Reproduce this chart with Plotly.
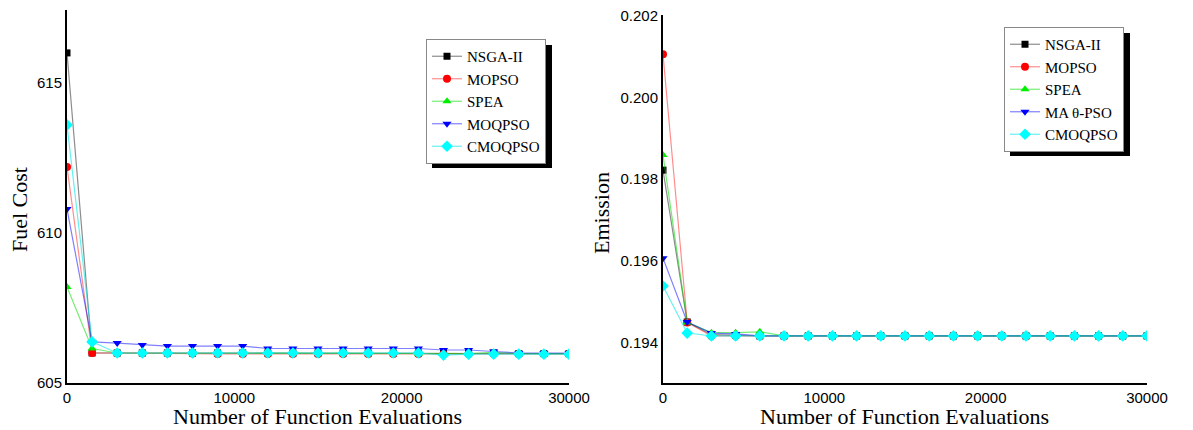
import plotly.graph_objects as go

W, H = 1193, 430
OFF = 8  # default page body margin

evals = [i * 1500 for i in range(21)]

# Fuel cost (left)
fc_names = ["NSGA-II", "MOPSO", "SPEA", "MOQPSO", "CMOQPSO"]
fc_nsga2 = [616.0, 606.0, 606.0, 606.0, 606.0, 606.0, 606.0, 606.0, 606.0, 606.0, 606.0,
            606.0, 606.0, 606.0, 606.0, 606.0, 606.0, 606.0, 605.98, 605.98, 605.98]
fc_mopso = [612.2, 606.0, 606.0, 606.0, 606.0, 605.98, 605.97, 605.97, 605.97, 605.97, 605.97,
            605.97, 605.97, 605.97, 605.97, 605.97, 605.97, 605.97, 605.97, 605.97, 605.97]
fc_spea = [608.2, 606.15, 606.0, 606.0, 606.0, 606.0, 606.0, 606.0, 606.0, 606.0, 606.0,
           606.0, 606.0, 606.0, 605.98, 605.98, 605.98, 606.02, 605.98, 605.98, 605.98]
fc_moqpso = [610.8, 606.37, 606.33, 606.27, 606.23, 606.23, 606.23, 606.23, 606.15, 606.15, 606.15,
             606.15, 606.15, 606.15, 606.15, 606.1, 606.1, 606.05, 606.0, 606.0, 606.0]
fc_cmoqpso = [613.6, 606.37, 606.0, 606.0, 606.0, 606.0, 606.0, 606.0, 606.0, 606.0, 606.0,
              606.0, 606.0, 606.0, 606.0, 605.93, 605.96, 605.96, 605.96, 605.96, 605.96]

# Emission (right)
em_names = ["NSGA-II", "MOPSO", "SPEA", "MA θ-PSO", "CMOQPSO"]
em_nsga2 = [0.19822, 0.19451, 0.19420, 0.19418] + [0.19417] * 17
em_mopso = [0.20105, 0.19450, 0.19417, 0.19417] + [0.19417] * 17
em_spea = [0.19859, 0.19450, 0.19425, 0.19425, 0.19427] + [0.19417] * 16
em_maopso = [0.19607, 0.19451, 0.19424, 0.19422] + [0.19417] * 17
em_cmoqpso = [0.19539, 0.19424, 0.19417, 0.19417] + [0.19417] * 17

fc_ticks = [605, 610, 615]
em_ticks = [0.194, 0.196, 0.198, 0.200, 0.202]
x_ticks = [0, 10000, 20000, 30000]

marker_colors = ["#000000", "#ff0000", "#00ee00", "#0000ff", "#00ffff"]
line_colors = ["rgba(0,0,0,0.45)", "rgba(255,0,0,0.45)", "rgba(0,220,0,0.55)",
               "rgba(0,0,255,0.5)", "rgba(0,230,230,0.6)"]
symbols = ["square", "circle", "triangle-up", "triangle-down", "diamond"]
sizes = [7, 8, 8, 8, 9]

SERIF = "Times New Roman, Liberation Serif, serif"
SANS = "Arial, Liberation Sans, sans-serif"

FW, FH = W - OFF, H - OFF

def px(x):
    return (x - OFF) / FW

def py(y):
    return 1 - (y - OFF) / FH

fig = go.Figure()

for i, (name, ys) in enumerate(zip(fc_names, [fc_nsga2, fc_mopso, fc_spea, fc_moqpso, fc_cmoqpso])):
    fig.add_trace(go.Scatter(
        x=evals, y=ys, name=name, mode="lines+markers",
        line=dict(color=line_colors[i], width=1.2),
        marker=dict(color=marker_colors[i], symbol=symbols[i], size=sizes[i], line=dict(width=0)),
        xaxis="x", yaxis="y", legend="legend"))

for i, (name, ys) in enumerate(zip(em_names, [em_nsga2, em_mopso, em_spea, em_maopso, em_cmoqpso])):
    fig.add_trace(go.Scatter(
        x=evals, y=ys, name=name, mode="lines+markers",
        line=dict(color=line_colors[i], width=1.2),
        marker=dict(color=marker_colors[i], symbol=symbols[i], size=sizes[i], line=dict(width=0)),
        xaxis="x2", yaxis="y2", legend="legend2"))

axis_common = dict(showline=True, linecolor="black", linewidth=2, showgrid=False,
                   zeroline=False, ticks="", tickfont=dict(family=SANS, size=15, color="black"),
                   mirror=False, automargin=False, ticklabeloverflow="allow")

legend_common = dict(xanchor="left", yanchor="top", bgcolor="white",
                     bordercolor="#888888", borderwidth=1,
                     font=dict(family=SERIF, size=15, color="black"),
                     itemwidth=30, tracegroupgap=0)

fig.update_layout(
    width=FW, height=FH,
    margin=dict(l=0, r=0, t=0, b=0, autoexpand=False),
    paper_bgcolor="white", plot_bgcolor="white",
    xaxis=dict(domain=[px(67), px(569)], range=[0, 30000], tickvals=x_ticks,
               tickformat="d", anchor="y", **axis_common),
    yaxis=dict(domain=[py(383), py(10)], range=[605, 617.43], tickvals=fc_ticks,
               anchor="x", **axis_common),
    xaxis2=dict(domain=[px(663), px(1147)], range=[0, 30000], tickvals=x_ticks,
                tickformat="d", anchor="y2", **axis_common),
    yaxis2=dict(domain=[py(383), py(15)], range=[0.19302, 0.20201], tickvals=em_ticks,
                tickformat=".3f", anchor="x2", **axis_common),
    legend=dict(x=px(426), y=py(39), **legend_common),
    legend2=dict(x=px(1004), y=py(27), **legend_common),
    showlegend=True,
)

# legend drop shadows
fig.add_shape(type="rect", xref="paper", yref="paper",
              x0=px(432), x1=px(552), y0=py(168), y1=py(45),
              fillcolor="black", line=dict(width=0), layer="below")
fig.add_shape(type="rect", xref="paper", yref="paper",
              x0=px(1010), x1=px(1130), y0=py(156), y1=py(33),
              fillcolor="black", line=dict(width=0), layer="below")

title_font = dict(family=SERIF, size=22, color="black")
ann = dict(xref="paper", yref="paper", showarrow=False, font=title_font,
           xanchor="center", yanchor="middle")
fig.add_annotation(text="Number of Function Evaluations", x=px(317), y=py(416), **ann)
fig.add_annotation(text="Number of Function Evaluations", x=px(904), y=py(416), **ann)
fig.add_annotation(text="Fuel Cost", x=px(20), y=py(210), textangle=-90, **ann)
fig.add_annotation(text="Emission", x=px(602), y=py(213), textangle=-90, **ann)

fig.write_html("out.html")
